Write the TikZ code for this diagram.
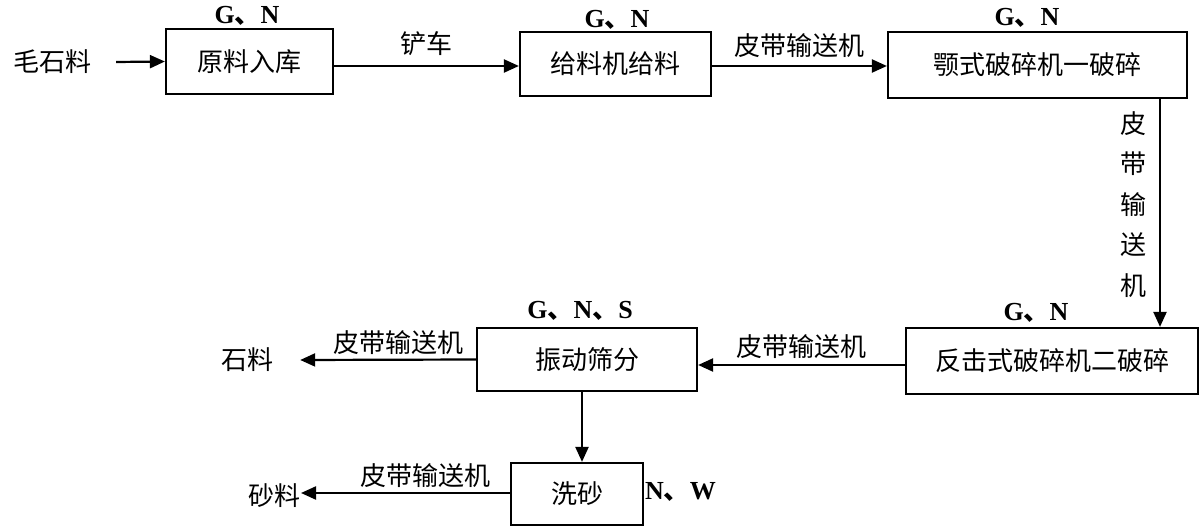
\documentclass[tikz,border=0pt]{standalone}
\usepackage{fontspec}
\setmainfont{Liberation Serif}
\newfontfamily\cjk{Noto Sans CJK SC}
\usetikzlibrary{arrows.meta}
\newcommand\dunhao{{\cjk 、}}
\tikzset{
  box/.style={draw, line width=2.2pt, inner sep=0pt, font=\cjk\fontsize{26}{30}\selectfont},
  lbl/.style={inner sep=0pt, font=\cjk\fontsize{26}{30}\selectfont},
  pol/.style={inner sep=0pt, font=\bfseries\fontsize{26}{28}\selectfont},
  arr/.style={line width=2.2pt, -{Triangle[length=15pt,width=13pt]}},
}
\begin{document}
\begin{tikzpicture}[x=1pt,y=-1pt]
\useasboundingbox (0,0) rectangle (1199,526);
% boxes
\node[box, minimum width=167pt, minimum height=65pt] (b1) at (249.5,61.5) {原料入库};
\node[box, minimum width=191pt, minimum height=64pt] (b2) at (615.5,64) {给料机给料};
\node[box, minimum width=299pt, minimum height=66pt] (b3) at (1037.5,65) {颚式破碎机一破碎};
\node[box, minimum width=292pt, minimum height=66pt] (b4) at (1052,361) {反击式破碎机二破碎};
\node[box, minimum width=220pt, minimum height=63pt] (b5) at (587,359.5) {振动筛分};
\node[box, minimum width=132pt, minimum height=62pt] (b6) at (577,494) {洗砂};
% end texts
\node[lbl] (mst) at (52,62) {毛石料};
\node[lbl] (sl) at (247,360) {石料};
\node[lbl, anchor=east] (sa) at (301,496) {砂料};
% pollutant labels
\node[pol] (p1) at (247,16) {G\dunhao N};
\node[pol] (p2) at (617,20) {G\dunhao N};
\node[pol] (p3) at (1027,18) {G\dunhao N};
\node[pol] (p4) at (1036,313) {G\dunhao N};
\node[pol] (p5) at (580,311) {G\dunhao N\dunhao S};
\node[pol, anchor=west] (p6) at (645,492) {N\dunhao W};
% helper coordinates
\coordinate (v1) at (1160,200);
\coordinate (v2) at (582,420);
\coordinate (h1) at (0,365);
\coordinate (h2) at (0,66);
\coordinate (h3) at (0,493);
% connectors
\draw[arr] ([xshift=25pt]mst.east) -- (b1.west);
\draw[arr] (b1.east |- h2) -- node[lbl, above=9pt] (l1) {铲车} (b2.west |- h2);
\draw[arr] (b2.east |- h2) -- node[lbl, above=7pt] (l2) {皮带输送机} (b3.west |- h2);
\draw[arr] (b3.south -| v1) -- (b4.north -| v1);
\node[lbl, align=center, font=\cjk\fontsize{26}{40.5}\selectfont, anchor=north] (l3) at (1133,111) {皮\\带\\输\\送\\机};
\draw[arr] (b4.west |- h1) -- node[lbl, above=5pt] (l4) {皮带输送机} (b5.east |- h1);
\draw[arr] (b5.west) -- ([xshift=27pt]sl.east);
\node[lbl] (l5) at (398,343) {皮带输送机};
\draw[arr] (b5.south -| v2) -- (b6.north -| v2);
\draw[arr] (b6.west |- h3) -- (sa.east |- h3);
\node[lbl] (l6) at (425,476) {皮带输送机};
\end{tikzpicture}
\end{document}
